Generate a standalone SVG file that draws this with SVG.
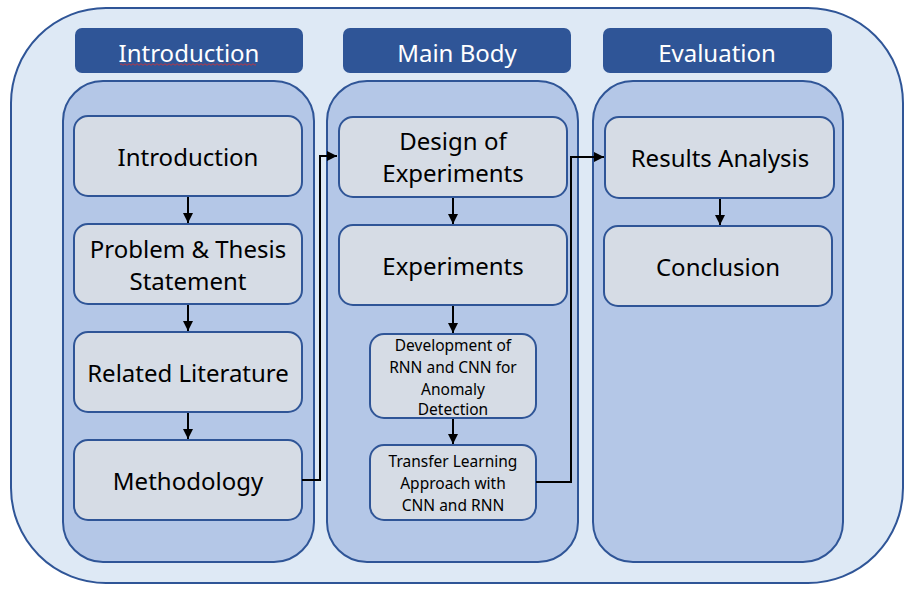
<svg xmlns="http://www.w3.org/2000/svg" width="916" height="589" viewBox="0 0 916 589">
<defs>
<style>
.outer{fill:#dee9f5;stroke:#2f5597;stroke-width:2}
.hdr{fill:#2f5597}
.panel{fill:#b4c7e7;stroke:#2f5597;stroke-width:2}
.node{fill:#d6dce5;stroke:#2f5597;stroke-width:2}
.ht{font-family:"Noto Sans","Open Sans",sans-serif;font-size:24px;fill:#ffffff;text-anchor:middle}
.t{font-family:"Noto Sans","Open Sans",sans-serif;font-size:24px;fill:#000000;text-anchor:middle}
.s{font-family:"Noto Sans","Open Sans",sans-serif;font-size:15.5px;fill:#000000;text-anchor:middle}
.c{fill:none;stroke:#000000;stroke-width:2}
</style>
<marker id="ah" viewBox="0 0 10 10" refX="10" refY="5" markerWidth="5" markerHeight="5" orient="auto" markerUnits="strokeWidth">
<path d="M0,0 L10,5 L0,10 Z" fill="#000000"/>
</marker>
</defs>
<rect class="outer" x="11" y="8" width="892" height="575" rx="95" ry="95"/>
<g id="header-introduction">
<rect class="hdr" x="75" y="28" width="228" height="45" rx="7"/>
<text class="ht" x="189" y="62">Introduction</text>
<path d="M120,64.5 q1,-1.5 2,0 t2,0 t2,0 t2,0 t2,0 t2,0 t2,0 t2,0 t2,0 t2,0 t2,0 t2,0 t2,0 t2,0 t2,0 t2,0 t2,0 t2,0 t2,0 t2,0 t2,0 t2,0 t2,0 t2,0 t2,0 t2,0 t2,0 t2,0 t2,0 t2,0 t2,0 t2,0 t2,0 t2,0 t2,0 t2,0 t2,0 t2,0 t2,0 t2,0 t2,0 t2,0 t2,0 t2,0 t2,0 t2,0 t2,0 t2,0 t2,0 t2,0 t2,0 t2,0 t2,0 t2,0 t2,0 t2,0 t2,0 t2,0 t2,0 t2,0 t2,0 t2,0 t2,0 t2,0 t2,0 t2,0 t2,0 t2,0" fill="none" stroke="#e03030" stroke-width="0.8"/>
</g>
<g id="header-main-body">
<rect class="hdr" x="343" y="28" width="228" height="45" rx="7"/>
<text class="ht" x="457" y="62">Main Body</text>
</g>
<g id="header-evaluation">
<rect class="hdr" x="603" y="28" width="229" height="45" rx="7"/>
<text class="ht" x="717" y="62">Evaluation</text>
</g>
<g id="panel-introduction"><rect class="panel" x="63" y="81" width="251" height="481" rx="40"/></g>
<g id="panel-main-body"><rect class="panel" x="327" y="81" width="251" height="481" rx="40"/></g>
<g id="panel-evaluation"><rect class="panel" x="593" y="81" width="250" height="481" rx="40"/></g>
<g id="n-introduction">
<rect class="node" x="74" y="116" width="228" height="80" rx="14"/>
<text class="t" x="188" y="166">Introduction</text>
</g>
<g id="n-problem">
<rect class="node" x="74" y="224" width="228" height="80" rx="14"/>
<text class="t" x="188" y="258">Problem &amp; Thesis</text>
<text class="t" x="188" y="290">Statement</text>
</g>
<g id="n-related">
<rect class="node" x="74" y="332" width="228" height="80" rx="14"/>
<text class="t" x="188" y="382">Related Literature</text>
</g>
<g id="n-methodology">
<rect class="node" x="74" y="440" width="228" height="80" rx="14"/>
<text class="t" x="188" y="490">Methodology</text>
</g>
<g id="n-design">
<rect class="node" x="339" y="117" width="228" height="80" rx="14"/>
<text class="t" x="453" y="150">Design of</text>
<text class="t" x="453" y="182">Experiments</text>
</g>
<g id="n-experiments">
<rect class="node" x="339" y="225" width="228" height="80" rx="14"/>
<text class="t" x="453" y="275">Experiments</text>
</g>
<g id="n-development">
<rect class="node" x="370" y="334" width="166" height="84" rx="14"/>
<text class="s" x="453" y="351">Development of</text>
<text class="s" x="453" y="373">RNN and CNN for</text>
<text class="s" x="453" y="395">Anomaly</text>
<text class="s" x="453" y="415">Detection</text>
</g>
<g id="n-transfer">
<rect class="node" x="370" y="445" width="166" height="75" rx="14"/>
<text class="s" x="453" y="467">Transfer Learning</text>
<text class="s" x="453" y="489">Approach with</text>
<text class="s" x="453" y="511">CNN and RNN</text>
</g>
<g id="n-results">
<rect class="node" x="605" y="117" width="229" height="81" rx="14"/>
<text class="t" x="720" y="167">Results Analysis</text>
</g>
<g id="n-conclusion">
<rect class="node" x="604" y="226" width="228" height="80" rx="14"/>
<text class="t" x="718" y="276">Conclusion</text>
</g>
<g id="connectors">
<line class="c" x1="188" y1="197" x2="188" y2="223" marker-end="url(#ah)"/>
<line class="c" x1="188" y1="305" x2="188" y2="331" marker-end="url(#ah)"/>
<line class="c" x1="188" y1="413" x2="188" y2="439" marker-end="url(#ah)"/>
<polyline class="c" points="302,480 320,480 320,156 337,156" marker-end="url(#ah)"/>
<line class="c" x1="453" y1="198" x2="453" y2="224" marker-end="url(#ah)"/>
<line class="c" x1="453" y1="306" x2="453" y2="333" marker-end="url(#ah)"/>
<line class="c" x1="453" y1="419" x2="453" y2="444" marker-end="url(#ah)"/>
<polyline class="c" points="536,482 571,482 571,157 604,157" marker-end="url(#ah)"/>
<line class="c" x1="720" y1="199" x2="720" y2="225" marker-end="url(#ah)"/>
</g>
</svg>
